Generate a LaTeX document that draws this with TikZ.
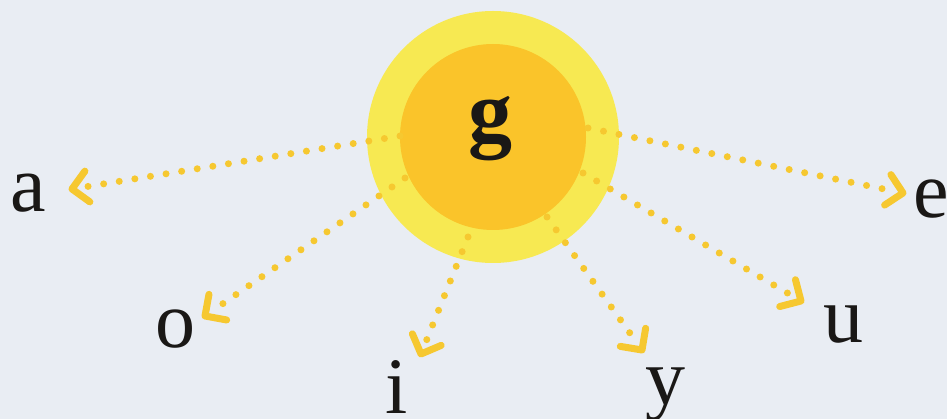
\documentclass[tikz,border=0pt]{standalone}
\usepackage{fontspec}
\setmainfont{Liberation Serif}
\usetikzlibrary{calc}
\definecolor{bgc}{RGB}{233,237,243}
\definecolor{ringc}{RGB}{247,233,82}
\definecolor{corec}{RGB}{250,196,42}
\definecolor{dotc}{RGB}{246,200,48}
\definecolor{inkc}{RGB}{26,24,22}
\tikzset{
  ring/.style={circle,fill=ringc,minimum size=252pt,inner sep=0pt},
  core/.style={circle,fill=corec,minimum size=186pt,inner sep=0pt},
  dotline/.style={draw=dotc,line width=7pt,line cap=round,dash pattern=on 0pt off 15.8pt},
  chev/.style={draw=dotc,line width=7pt,line cap=round,line join=round},
  letter/.style={text=inkc,font=\fontsize{80}{80}\selectfont,anchor=base,inner sep=0pt},
  bigletter/.style={text=inkc,font=\fontsize{88}{88}\selectfont\bfseries,anchor=base,inner sep=0pt}
}
\begin{document}
\begin{tikzpicture}[x=1pt,y=-1pt]
\useasboundingbox (0,0) rectangle (947,419);
\fill[bgc] (0,0) rectangle (947,419);
\node[ring] (halo) at (493,137) {};
\node[core] (core) at (493,137) {};
\node[bigletter] (g) at (490,142) {g};
% labels
\node[letter] (a) at (28,212) {a};
\node[letter] (o) at (175,348) {o};
\node[letter] (i) at (397,413) {i};
\node[letter] (y) at (665,404) {y};
\node[letter] (u) at (843,342) {u};
\node[letter] (e) at (931,218) {e};
% starts
\coordinate (sa) at (400,136);
\coordinate (so) at (405,178);
\coordinate (si) at (468,237);
\coordinate (sy) at (547,217);
\coordinate (su) at (583,173);
\coordinate (se) at (588,128);
% tips
\coordinate (ta) at (72,189);
\coordinate (to) at (205,316);
\coordinate (ti) at (421,354);
\coordinate (ty) at (642,350);
\coordinate (tu) at (801,301);
\coordinate (te) at (903,193);
\foreach \s/\t in {sa/ta,so/to,si/ti,sy/ty,su/tu,se/te}{
  \draw[dotline] (\s) -- ($(\t)!15pt!(\s)$);
  \draw[chev] ($(\t)!22pt!45:(\s)$) -- (\t) -- ($(\t)!22pt!-45:(\s)$);
}
\end{tikzpicture}
\end{document}
